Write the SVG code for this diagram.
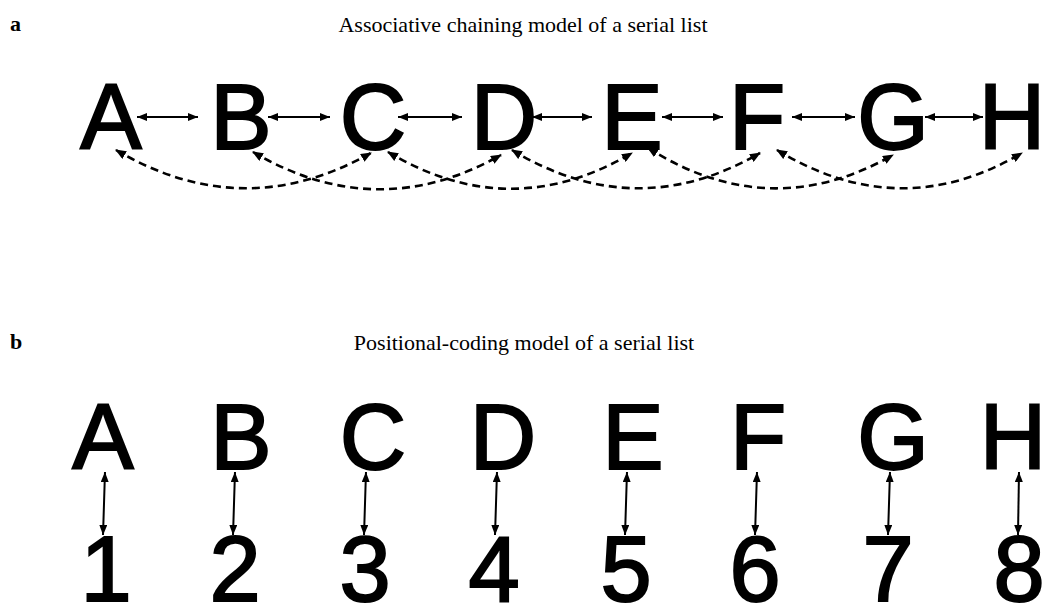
<svg xmlns="http://www.w3.org/2000/svg" width="1045" height="605" viewBox="0 0 1045 605">
<style>
.lbl{font-family:"Liberation Serif","Times New Roman",serif;font-size:22px;fill:#000}
.pl{font-family:"Liberation Serif","Times New Roman",serif;font-size:22px;font-weight:bold;fill:#000}
.big{font-family:"Liberation Sans",Arial,sans-serif;font-size:92px;fill:#000;stroke:#000;stroke-width:2;text-anchor:middle}
.solid{fill:none;stroke:#000;stroke-width:2;marker-start:url(#ah);marker-end:url(#ah)}
.dash{fill:none;stroke:#000;stroke-width:2.6;stroke-dasharray:8 5;marker-start:url(#ah2);marker-end:url(#ah2)}
</style>
<defs>
<marker id="ah" viewBox="0 0 10 8" refX="10" refY="4" markerWidth="10" markerHeight="8" markerUnits="userSpaceOnUse" orient="auto-start-reverse">
<path d="M0,0 L10,4 L0,8 z" fill="#000"/>
</marker>
<marker id="ah2" viewBox="0 0 11 9" refX="10" refY="4.5" markerWidth="11" markerHeight="9" markerUnits="userSpaceOnUse" orient="auto-start-reverse">
<path d="M0,0 L11,4.5 L0,9 z" fill="#000"/>
</marker>
</defs>
<rect width="1045" height="605" fill="#fff"/>
<g id="panel-a-title">
<text class="pl" x="10" y="31">a</text>
<text class="lbl" x="523" y="32" text-anchor="middle">Associative chaining model of a serial list</text>
</g>
<g id="panel-b-title">
<text class="pl" x="10" y="349">b</text>
<text class="lbl" x="524" y="350" text-anchor="middle">Positional-coding model of a serial list</text>
</g>
<g id="a-A"><text class="big" x="111" y="149">A</text></g>
<g id="a-B"><text class="big" x="241" y="149">B</text></g>
<g id="a-C"><text class="big" x="373" y="149">C</text></g>
<g id="a-D"><text class="big" x="504" y="149">D</text></g>
<g id="a-E"><text class="big" x="632" y="149">E</text></g>
<g id="a-F"><text class="big" x="757" y="149">F</text></g>
<g id="a-G"><text class="big" x="893" y="149">G</text></g>
<g id="a-H"><text class="big" x="1012" y="149">H</text></g>
<g id="b-A"><text class="big" x="103" y="469">A</text></g>
<g id="b-B"><text class="big" x="241" y="469">B</text></g>
<g id="b-C"><text class="big" x="373" y="469">C</text></g>
<g id="b-D"><text class="big" x="503" y="469">D</text></g>
<g id="b-E"><text class="big" x="633" y="469">E</text></g>
<g id="b-F"><text class="big" x="758" y="469">F</text></g>
<g id="b-G"><text class="big" x="893" y="469">G</text></g>
<g id="b-H"><text class="big" x="1013" y="469">H</text></g>
<g id="b-1"><text class="big" x="106" y="601">1</text></g>
<g id="b-2"><text class="big" x="235" y="601">2</text></g>
<g id="b-3"><text class="big" x="365" y="601">3</text></g>
<g id="b-4"><text class="big" x="494" y="601">4</text></g>
<g id="b-5"><text class="big" x="626" y="601">5</text></g>
<g id="b-6"><text class="big" x="755" y="601">6</text></g>
<g id="b-7"><text class="big" x="888" y="601">7</text></g>
<g id="b-8"><text class="big" x="1019" y="601">8</text></g>
<g id="connectors">
<path class="solid" d="M137,117 L198,117"/>
<path class="solid" d="M268,117 L330,117"/>
<path class="solid" d="M398,117 L462,117"/>
<path class="solid" d="M532,117 L592,117"/>
<path class="solid" d="M662,117 L723,117"/>
<path class="solid" d="M792,117 L855,117"/>
<path class="solid" d="M925,117 L983,117"/>
<path class="dash" d="M116,150 Q243,225 371,153"/>
<path class="dash" d="M253,152 Q377,225 501,155"/>
<path class="dash" d="M388,152 Q510,225 632,153"/>
<path class="dash" d="M512,150 Q636,225 760,153"/>
<path class="dash" d="M648,148 Q770,225 893,155"/>
<path class="dash" d="M777,150 Q900,225 1022,153"/>
<path class="solid" d="M105,472 L103,535"/>
<path class="solid" d="M235,472 L233,535"/>
<path class="solid" d="M366,472 L364,535"/>
<path class="solid" d="M497,472 L495,535"/>
<path class="solid" d="M627,472 L625,535"/>
<path class="solid" d="M757,472 L755,535"/>
<path class="solid" d="M890,472 L888,535"/>
<path class="solid" d="M1019,472 L1018,535"/>
</g>
</svg>
